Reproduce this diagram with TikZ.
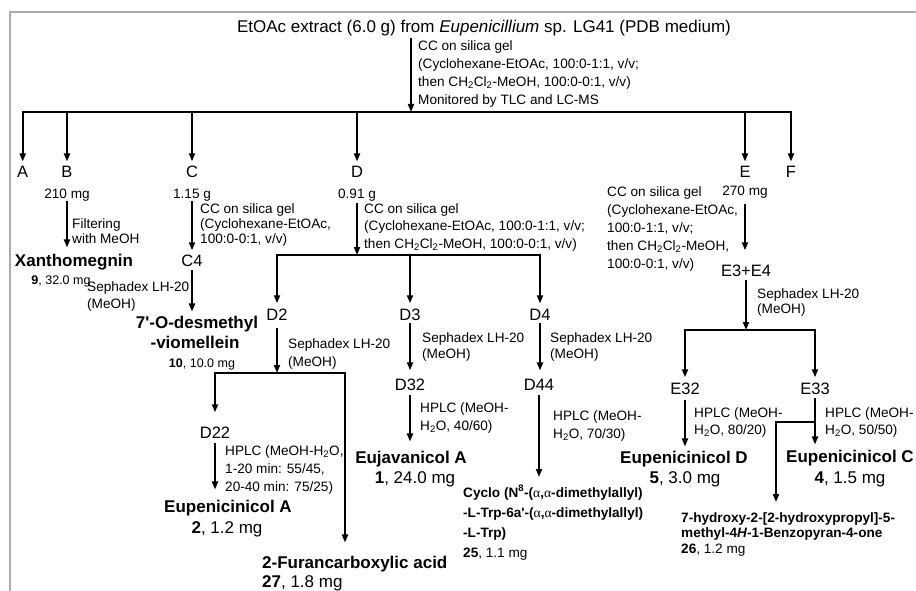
\documentclass[tikz,border=0pt]{standalone}
\usepackage{fontspec}
\setmainfont{Liberation Sans}
\newfontfamily\grk{Liberation Serif}
\usetikzlibrary{arrows.meta}
\newcommand{\fsz}[2]{\fontsize{#1}{#2}\selectfont}
\newcommand{\gk}{{\grk\mdseries α}}
\begin{document}
\begin{tikzpicture}[x=1pt,y=-1pt,
  wire/.style={line width=1.8pt, line cap=rect},
  flow/.style={line width=1.8pt, -{Triangle[length=8pt,width=6pt]}},
  fr/.style={font=\fsz{16.5}{20}, inner sep=0pt, anchor=base},
  amt/.style={font=\fsz{13.6}{18}, inner sep=0pt, anchor=base},
  note/.style={font=\fsz{13.6}{#1}, inner sep=0pt, anchor=north west, align=left},
  note/.default=18.3,
  cmpd/.style={font=\bfseries\fsz{17}{20}, inner sep=0pt, anchor=base},
  big/.style={font=\fsz{17}{20}, inner sep=0pt, anchor=base},
  small/.style={font=\fsz{12.5}{15}, inner sep=0pt, anchor=base},
  cmpds/.style={font=\bfseries\fsz{13.6}{#1}, inner sep=0pt, anchor=north west, align=left},
  cmpds/.default=20,
]
\useasboundingbox (0,0) rectangle (916,591);
% frame
\draw[line width=2pt, draw=black!33] (9.7,591) -- (9.7,12.2) -- (916,12.2);

% crude extract and first column
\node[font=\fsz{17}{20}, inner sep=0pt, anchor=base] (title) at (484,33)
  {EtOAc extract (6.0 g) from \textit{Eupenicillium} sp. LG41 (PDB medium)};
\coordinate (barL) at (22.7,112);
\coordinate (barR) at (791,112);
\coordinate (barM) at (411,112);
\draw[wire] (barL) -- (barR);
\draw[flow, shorten <=1.5pt] (title.south -| barM) -- (barM);
\node[note] (n0) at (418,40) {CC on silica gel\\(Cyclohexane-EtOAc, 100:0-1:1, v/v;\\then CH\textsubscript{2}Cl\textsubscript{2}-MeOH, 100:0-0:1, v/v)\\Monitored by TLC and LC-MS};

% fractions
\node[fr] (A) at (22.7,178) {A};
\node[fr] (B) at (67,178) {B};
\node[fr] (C) at (192,178) {C};
\node[fr] (D) at (357,178) {D};
\node[fr] (E) at (745,178) {E};
\node[fr] (F) at (791,178) {F};
\foreach \f in {A,B,C,D,E,F}
  \draw[flow, shorten >=5pt] (\f.north |- barL) -- (\f.north);

\node[amt] (mB) at (67,198) {210 mg};
\node[amt] (mC) at (192,198) {1.15 g};
\node[amt] (mD) at (357,198) {0.91 g};
\node[amt] (mE) at (745,196) {270 mg};

% fraction B
\node[cmpd] (x9) at (74,266) {Xanthomegnin};
\node[small] (a9) at (61,284.5) {\textbf{9}, 32.0 mg};
\draw[flow, shorten >=6pt] (mB.south) -- (mB.south |- x9.north);
\node[note=15] (nB) at (72,218.4) {Filtering\\with MeOH};

% fraction C
\node[fr] (C4) at (192,266) {C4};
\draw[flow, shorten >=4pt] (mC.south) -- (mC.south |- C4.north);
\node[note=15] (nC) at (200,203.4) {CC on silica gel\\(Cyclohexane-EtOAc,\\100:0-0:1, v/v)};
\node[cmpd] (c10a) at (197,328) {7\textquotesingle-O-desmethyl};
\node[cmpd] (c10b) at (195,348) {-viomellein};
\node[small] (a10) at (202,367.5) {\textbf{10}, 10.0 mg};
\draw[flow, shorten <=4pt, shorten >=4pt] (C4.south) -- (C4.south |- c10a.north);
\node[note=16.7] (nC4) at (87,281.8) {Sephadex LH-20\\(MeOH)};

% fraction D
\coordinate (dL) at (277,255);
\coordinate (dR) at (540,255);
\draw[wire] (dL) -- (dR);
\draw[flow, shorten <=2pt] (mD.south) -- (mD.south |- dL);
\node[note=17.5] (nD) at (364,203) {CC on silica gel\\(Cyclohexane-EtOAc, 100:0-1:1, v/v;\\then CH\textsubscript{2}Cl\textsubscript{2}-MeOH, 100:0-0:1, v/v)};
\node[fr] (D2) at (277,320) {D2};
\node[fr] (D3) at (410,320) {D3};
\node[fr] (D4) at (540,320) {D4};
\foreach \f in {D2,D3,D4}
  \draw[flow, shorten >=5pt] (\f.north |- dL) -- (\f.north);

% D2
\coordinate (d2L) at (215,373);
\coordinate (d2R) at (345,373);
\draw[wire] (d2L) -- (d2R);
\draw[flow, shorten <=8pt] (D2.south) -- (D2.south |- d2L);
\node[note=18] (nD2) at (288,338) {Sephadex LH-20\\(MeOH)};
\node[fr] (D22) at (215,438) {D22};
\draw[flow, shorten >=14pt] (D22.north |- d2L) -- (D22.north);
\node[cmpd, anchor=base west] (fur) at (262,568) {2-Furancarboxylic acid};
\node[big, anchor=base west] (a27) at (262,587) {\textbf{27}, 1.8 mg};
\draw[flow, shorten >=13pt] (d2R) -- (d2R |- fur.north);
\node[cmpd] (e2) at (228,512) {Eupenicinicol A};
\node[big] (a2) at (227,533) {\textbf{2}, 1.2 mg};
\draw[flow, shorten <=5pt, shorten >=10pt] (D22.south) -- (D22.south |- e2.north);
\node[note=18] (nD22) at (225,445) {HPLC (MeOH-H\textsubscript{2}O,\\1-20 min: 55/45,\\20-40 min: 75/25)};

% D3
\node[fr] (D32) at (410,390) {D32};
\draw[flow, shorten <=3pt, shorten >=8pt] (D3.south) -- (D3.south |- D32.north);
\node[note=16.7] (nD3) at (422,332) {Sephadex LH-20\\(MeOH)};
\node[cmpd] (e1) at (411,463) {Eujavanicol A};
\node[big] (a1) at (415,483) {\textbf{1}, 24.0 mg};
\draw[flow, shorten <=5pt, shorten >=9pt] (D32.south) -- (D32.south |- e1.north);
\node[note] (nD32) at (420,402.4) {HPLC (MeOH-\\H\textsubscript{2}O, 40/60)};

% D4
\node[fr] (D44) at (539,390) {D44};
\draw[flow, shorten <=3pt, shorten >=8pt] (D4.south) -- (D4.south |- D44.north);
\node[note=16.7] (nD4) at (550,332) {Sephadex LH-20\\(MeOH)};
\node[cmpds] (cy) at (463,485) {Cyclo (N\textsuperscript{8}-(\gk,\gk-dimethylallyl)\\-L-Trp-6a\textquotesingle-(\gk,\gk-dimethylallyl)\\-L-Trp)\\25{\mdseries, 1.1 mg}};
\draw[flow, shorten <=5pt, shorten >=8pt] (D44.south) -- (D44.south |- cy.north);
\node[note] (nD44) at (553,410) {HPLC (MeOH-\\H\textsubscript{2}O, 70/30)};

% fraction E
\node[note=18] (nE) at (607,186) {CC on silica gel\\(Cyclohexane-EtOAc,\\100:0-1:1, v/v;\\then CH\textsubscript{2}Cl\textsubscript{2}-MeOH,\\100:0-0:1, v/v)};
\node[fr] (E34) at (746,276) {E3+E4};
\draw[flow, shorten <=5pt, shorten >=14pt] (mE.south) -- (mE.south |- E34.north);
\coordinate (eL) at (685,330);
\coordinate (eR) at (815,330);
\draw[wire] (eL) -- (eR);
\draw[flow, shorten <=4pt] (E34.south) -- (E34.south |- eL);
\node[note=15] (nE34) at (757,288) {Sephadex LH-20\\(MeOH)};
\node[fr] (E32) at (685,394) {E32};
\node[fr] (E33) at (815,394) {E33};
\foreach \f in {E32,E33}
  \draw[flow, shorten >=5pt] (\f.north |- eL) -- (\f.north);

% E32
\node[cmpd] (eD) at (684,463) {Eupenicinicol D};
\node[big] (a5) at (685,483) {\textbf{5}, 3.0 mg};
\draw[flow, shorten <=6pt, shorten >=4pt] (E32.south) -- (E32.south |- eD.north);
\node[note=17.3] (nE32) at (694,407) {HPLC (MeOH-\\H\textsubscript{2}O, 80/20)};

% E33
\node[cmpd] (eC) at (850,462) {Eupenicinicol C};
\node[big] (a4) at (850,483) {\textbf{4}, 1.5 mg};
\draw[flow, shorten <=4pt, shorten >=5pt] (E33.south) -- (E33.south |- eC.north);
\node[note=17.3] (nE33) at (825,407) {HPLC (MeOH-\\H\textsubscript{2}O, 50/50)};
\node[cmpds=15.5] (bz) at (681,512) {7-hydroxy-2-[2-hydroxypropyl]-5-\\methyl-4\textit{H}-1-Benzopyran-4-one\\26{\mdseries, 1.2 mg}};
\coordinate (ebr) at (815,422);
\coordinate (bzin) at (776,502);
\draw[flow] (ebr) -| (bzin);
\end{tikzpicture}
\end{document}
